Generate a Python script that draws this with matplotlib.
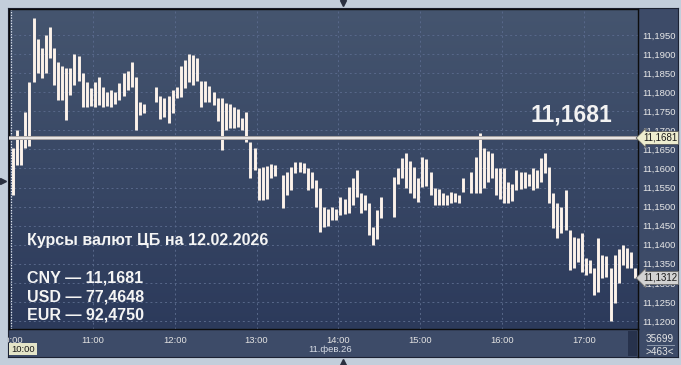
import numpy as np
import matplotlib
matplotlib.use('Agg')
import matplotlib.pyplot as plt
from matplotlib.colors import LinearSegmentedColormap
from matplotlib.patches import Rectangle

plt.rcParams['font.family'] = ['Liberation Sans', 'DejaVu Sans']

# 3-minute bars from 10:00 (minutes after 10:00), None = no trades
bar_step = 3
highs = [
    11.1654, 11.1700, 11.1680, 11.1747, 11.1827, 11.1994, 11.1940, 11.1915, 11.1950, 11.1970,
    11.1915, 11.1880, 11.1870, 11.1863, 11.1863, 11.1900, 11.1895, 11.1850, 11.1827, 11.1810,
    11.1827, 11.1840, 11.1813, 11.1800, 11.1805, 11.1800, 11.1825, 11.1850, 11.1855, 11.1880,
    11.1840, 11.1774, 11.1770, None, None, 11.1813, 11.1790, 11.1785, 11.1790, 11.1805,
    11.1813, 11.1870, 11.1885, 11.1900, 11.1897, 11.1890, 11.1830, 11.1830, 11.1815, 11.1800,
    11.1785, 11.1785, 11.1772, 11.1770, 11.1760, 11.1755, 11.1733, 11.1747, 11.1670, 11.1654,
    11.1600, 11.1605, 11.1607, 11.1613, 11.1610, None, 11.1583, 11.1590, 11.1604, 11.1617,
    11.1617, 11.1615, 11.1600, 11.1590, 11.1570, 11.1550, 11.1500, 11.1495, 11.1500, 11.1495,
    11.1525, 11.1520, 11.1551, 11.1575, 11.1596, 11.1536, 11.1530, 11.1510, 11.1446, 11.1490,
    11.1525, None, None, 11.1578, 11.1600, 11.1628, 11.1641, 11.1620, 11.1604, 11.1575,
    11.1630, 11.1625, 11.1590, 11.1550, 11.1545, 11.1536, 11.1530, 11.1538, 11.1535, 11.1530,
    11.1575, None, 11.1590, 11.1630, 11.1692, 11.1654, 11.1645, 11.1641, 11.1600, 11.1600,
    11.1600, 11.1565, 11.1560, 11.1596, 11.1590, 11.1590, 11.1585, 11.1600, 11.1595, 11.1628,
    11.1641, 11.1604, 11.1536, 11.1510, 11.1500, 11.1543, 11.1438, 11.1420, 11.1418, 11.1431,
    11.1365, 11.1360, 11.1339, 11.1418, 11.1373, 11.1370, 11.1339, 11.1373, 11.1390, 11.1400,
    11.1392, 11.1380, 11.1339]
lows = [
    11.1530, 11.1610, 11.1610, 11.1654, 11.1660, 11.1827, 11.1850, 11.1837, 11.1850, 11.1890,
    11.1820, 11.1780, 11.1780, 11.1727, 11.1793, 11.1820, 11.1830, 11.1760, 11.1760, 11.1765,
    11.1762, 11.1767, 11.1760, 11.1765, 11.1762, 11.1770, 11.1780, 11.1790, 11.1805, 11.1813,
    11.1700, 11.1740, 11.1745, None, None, 11.1774, 11.1730, 11.1735, 11.1720, 11.1745,
    11.1785, 11.1788, 11.1810, 11.1827, 11.1820, 11.1830, 11.1760, 11.1774, 11.1775, 11.1767,
    11.1725, 11.1649, 11.1701, 11.1705, 11.1706, 11.1710, 11.1701, 11.1670, 11.1575, 11.1597,
    11.1517, 11.1517, 11.1520, 11.1575, 11.1580, None, 11.1496, 11.1530, 11.1543, 11.1588,
    11.1590, 11.1588, 11.1543, 11.1550, 11.1500, 11.1433, 11.1446, 11.1450, 11.1465, 11.1465,
    11.1478, 11.1480, 11.1483, 11.1505, 11.1525, 11.1483, 11.1490, 11.1425, 11.1400, 11.1415,
    11.1470, None, None, 11.1473, 11.1560, 11.1575, 11.1550, 11.1535, 11.1522, 11.1512,
    11.1551, 11.1555, 11.1530, 11.1504, 11.1505, 11.1504, 11.1505, 11.1510, 11.1512, 11.1510,
    11.1538, None, 11.1536, 11.1536, 11.1536, 11.1550, 11.1565, 11.1575, 11.1530, 11.1520,
    11.1510, 11.1510, 11.1515, 11.1543, 11.1545, 11.1550, 11.1555, 11.1543, 11.1550, 11.1565,
    11.1588, 11.1510, 11.1444, 11.1418, 11.1430, 11.1438, 11.1334, 11.1340, 11.1355, 11.1328,
    11.1321, 11.1325, 11.1268, 11.1276, 11.1313, 11.1315, 11.1200, 11.1247, 11.1300, 11.1347,
    11.1339, 11.1340, 11.1312]

cb_rate = 11.1681
last_price = 11.1312
hour_labels = ['10:00', '11:00', '12:00', '13:00', '14:00', '15:00', '16:00', '17:00']
title = 'Курсы валют ЦБ на 12.02.2026'
rates = ['CNY — 11,1681', 'USD — 77,4648', 'EUR — 92,4750']
date_label = '11.фев.26'

W, H = 681, 365
fig = plt.figure(figsize=(W / 100, H / 100), dpi=100)
fig.patch.set_facecolor('#c3cedb')


def box(x0, y0, x1, y1):
    return [x0 / W, 1 - y1 / H, (x1 - x0) / W, (y1 - y0) / H]


bg = fig.add_axes(box(8, 8, 678, 357))
bg.set_facecolor('#3d4b68')
bg.set_xticks([])
bg.set_yticks([])
for s in bg.spines.values():
    s.set_color('#1c2233')

ax = fig.add_axes(box(9, 9, 638, 329))
cmap = LinearSegmentedColormap.from_list('bgv', ['#45556f', '#2c3a5b'])
ax.imshow(np.linspace(0, 1, 256).reshape(-1, 1), cmap=cmap, extent=[0, 1, 0, 1],
          transform=ax.transAxes, aspect='auto', zorder=0)

hi = np.array(highs, dtype=float)
lo = np.array(lows, dtype=float)
t = np.arange(len(hi)) * bar_step + bar_step / 2
ok = ~np.isnan(hi)
ax.vlines(t[ok], lo[ok], hi[ok], color='#fcf2ea', lw=2.1, zorder=3)

ax.axhline(cb_rate, color='#a8a3a3', lw=2.8, zorder=4)
ax.axhline(cb_rate, color='#f6f2f0', lw=1.2, zorder=5)
ax.axvline(0, color='#e0e6f0', ls=(0, (1, 1.2)), lw=0.9, zorder=2)

ax.set_xlim(-1.47, 459.6)
ax.set_ylim(11.1179, 11.20182)

yt = np.arange(11.12, 11.1951, 0.005)
ax.yaxis.tick_right()
ax.set_yticks(yt)
ax.set_yticklabels([f'{v:.4f}'.replace('.', ',') for v in yt])
ax.set_xticks(np.arange(len(hour_labels)) * 60)
ax.set_xticklabels(hour_labels)
ax.tick_params(axis='y', length=0, pad=3, labelsize=6.8, labelcolor='#e8e8e8')
ax.tick_params(axis='x', length=0, pad=5, labelsize=6.8, labelcolor='#e2e2e2')
first = ax.get_xticklabels()[0]
first.set_clip_box(bg.bbox)
first.set_clip_on(True)
ax.grid(True, color='#58688a', ls=(0, (2, 3)), lw=0.7)
ax.set_axisbelow(True)
for s in ax.spines.values():
    s.set_color('#0d0d0d')
    s.set_linewidth(1.0)

# overlay in pixel coordinates
ov = fig.add_axes([0, 0, 1, 1])
ov.set_xlim(0, W)
ov.set_ylim(H, 0)
ov.axis('off')
ov.patch.set_alpha(0)

ov.text(530, 121.7, '11,1681', fontsize=16.5, fontweight='bold', color='#f2f2f2', va='baseline')
ov.text(27, 245.5, title, fontsize=11.5, fontweight='bold', color='#f4f4f4', va='baseline')
for i, r in enumerate(rates):
    ov.text(27, 282.7 + 18.4 * i, r, fontsize=11.5, fontweight='bold', color='#f4f4f4', va='baseline')

ov.text(643, 138, f'{cb_rate:.4f}'.replace('.', ','), fontsize=7, color='#1a1a1a', va='center',
        bbox=dict(boxstyle='larrow,pad=0.15', fc='#eeedcf', ec='#5a5a5a', lw=0.6))
ov.text(643, 278, f'{last_price:.4f}'.replace('.', ','), fontsize=7, color='#1a1a1a', va='center',
        bbox=dict(boxstyle='larrow,pad=0.15', fc='#d2d2d2', ec='#6a6a6a', lw=0.6))

ov.add_patch(Rectangle((8.5, 343), 28.5, 12, fc='#e4e4c8', ec='none'))
ov.text(23, 349.5, '10:00', fontsize=6.8, color='#1a1a1a', ha='center', va='center')
ov.text(330, 350, date_label, fontsize=6.8, color='#d8dde6', ha='center', va='center')
ov.add_patch(Rectangle((628, 331), 9, 25, fc='#27324c', ec='none'))
ov.plot([638, 638], [329, 357], color='#0d0d0d', lw=1)
ov.text(660, 339, '35699', fontsize=7.2, color='#e6e6e6', ha='center', va='center')
ov.plot([647, 674], [345, 345], color='#9aa5b8', lw=0.6)
ov.text(660, 352, '>463<', fontsize=7.2, color='#e6e6e6', ha='center', va='center')

ov.plot([343], [3], marker='v', ms=5, color='#2a3040')
ov.plot([343], [362], marker='^', ms=5, color='#2a3040')
ov.plot([3], [181], marker='>', ms=5, color='#2a3040')

fig.savefig('out.png', dpi=100, facecolor=fig.get_facecolor())
